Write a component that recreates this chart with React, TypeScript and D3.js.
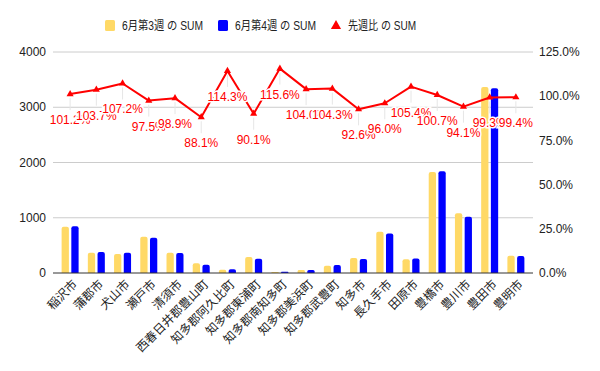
import { useEffect, useRef } from "react"
import * as d3 from "d3"

const categories = [
  "稲沢市", "蒲郡市", "犬山市", "瀬戸市", "清須市", "西春日井郡豊山町",
  "知多郡阿久比町", "知多郡東浦町", "知多郡南知多町", "知多郡美浜町", "知多郡武豊町",
  "知多市", "長久手市", "田原市", "豊橋市", "豊川市", "豊田市", "豊明市",
]
const week3 = [835, 365, 342, 655, 365, 178, 58, 288, 19, 54, 130, 272, 745, 248, 1830, 1082, 3368, 310]
const week4 = [845, 378, 366, 640, 361, 150, 70, 259, 22, 56, 143, 253, 717, 262, 1843, 1018, 3345, 308]
const ratio = [101.2, 103.7, 107.2, 97.5, 98.9, 88.1, 114.3, 90.1, 115.6, 104.0, 104.3, 92.6, 96.0, 105.4, 100.7, 94.1, 99.3, 99.4]
const leftTicks = [0, 1000, 2000, 3000, 4000]
const rightTicks = [0, 25, 50, 75, 100, 125]

const seriesNames = ["6月第3週 の SUM", "6月第4週 の SUM", "先週比 の SUM"]
const colors = ["#ffd966", "#0000ff", "#ff0000"]

const W = 600
const H = 371
const FONT = "'Liberation Sans', Arial, 'Noto Sans CJK JP', sans-serif"

export default function App() {
  const svgRef = useRef<SVGSVGElement>(null)

  useEffect(() => {
    const svg = d3.select(svgRef.current)
    svg.selectAll("*").remove()

    const top = 52
    const bottom = 273
    const x = d3.scaleBand().domain(categories).range([57, 529])
    const x1 = d3.scaleBand().domain(["w3", "w4"]).range([-8.5, 8.5]).paddingInner(0.25)
    const yL = d3.scaleLinear().domain([0, 4000]).range([bottom, top])
    const yR = d3.scaleLinear().domain([0, 125]).range([bottom, top])
    const cx = (c: string) => (x(c) as number) + x.bandwidth() / 2

    // grid
    svg.append("g")
      .selectAll("line")
      .data(leftTicks.slice(1))
      .enter()
      .append("line")
      .attr("x1", 53)
      .attr("x2", 533)
      .attr("y1", (d) => yL(d))
      .attr("y2", (d) => yL(d))
      .attr("stroke", "#cccccc")
      .attr("stroke-width", 1)

    // left axis labels
    svg.append("g")
      .selectAll("text")
      .data(leftTicks)
      .enter()
      .append("text")
      .attr("x", 46)
      .attr("y", (d) => yL(d))
      .attr("dy", "0.35em")
      .attr("text-anchor", "end")
      .attr("font-family", FONT)
      .attr("font-size", "12px")
      .attr("fill", "#222")
      .text((d) => String(d))

    // right axis labels
    svg.append("g")
      .selectAll("text")
      .data(rightTicks)
      .enter()
      .append("text")
      .attr("x", 539)
      .attr("y", (d) => yR(d))
      .attr("dy", "0.35em")
      .attr("text-anchor", "start")
      .attr("font-family", FONT)
      .attr("font-size", "12px")
      .attr("fill", "#222")
      .text((d) => `${d.toFixed(1)}%`)

    // bars with rounded tops
    const barPath = (x0: number, w: number, yTop: number) => {
      const r = Math.min(2, (bottom - yTop) / 2, w / 2)
      return `M${x0},${bottom}V${yTop + r}Q${x0},${yTop} ${x0 + r},${yTop}H${x0 + w - r}Q${x0 + w},${yTop} ${x0 + w},${yTop + r}V${bottom}Z`
    }
    const groups = [
      { key: "w3", values: week3, color: colors[0] },
      { key: "w4", values: week4, color: colors[1] },
    ]
    groups.forEach((g) => {
      svg.append("g")
        .selectAll("path")
        .data(categories)
        .enter()
        .append("path")
        .attr("d", (c, i) => barPath(cx(c) + (x1(g.key) as number), x1.bandwidth(), yL(g.values[i])))
        .attr("fill", g.color)
    })

    // baseline
    svg.append("line")
      .attr("x1", 53)
      .attr("x2", 533)
      .attr("y1", bottom)
      .attr("y2", bottom)
      .attr("stroke", "#333")
      .attr("stroke-width", 1)

    // leader lines for labels
    svg.append("g")
      .selectAll("line")
      .data(categories)
      .enter()
      .append("line")
      .attr("x1", (c) => cx(c))
      .attr("x2", (c) => cx(c))
      .attr("y1", (c, i) => yR(ratio[i]) + 4)
      .attr("y2", (c, i) => yR(ratio[i]) + 16)
      .attr("stroke", "#e6e6e6")
      .attr("stroke-width", 1)

    // line
    const line = d3
      .line<number>()
      .x((d, i) => cx(categories[i]))
      .y((d) => yR(d))
    svg.append("path")
      .datum(ratio)
      .attr("d", line)
      .attr("fill", "none")
      .attr("stroke", colors[2])
      .attr("stroke-width", 2)
      .attr("stroke-linejoin", "round")

    const tri = d3.symbol().type(d3.symbolTriangle).size(22)
    svg.append("g")
      .selectAll("path")
      .data(ratio)
      .enter()
      .append("path")
      .attr("d", tri)
      .attr("transform", (d, i) => `translate(${cx(categories[i])},${yR(d)})`)
      .attr("fill", colors[2])

    // value labels
    svg.append("g")
      .selectAll("text")
      .data(ratio)
      .enter()
      .append("text")
      .attr("x", (d, i) => cx(categories[i]))
      .attr("y", (d) => yR(d) + 30)
      .attr("text-anchor", "middle")
      .attr("font-family", FONT)
      .attr("font-size", "12px")
      .attr("fill", colors[2])
      .attr("stroke", "#fff")
      .attr("stroke-width", 3)
      .attr("paint-order", "stroke")
      .text((d) => `${d.toFixed(1)}%`)

    // x labels
    svg.append("g")
      .selectAll("text")
      .data(categories)
      .enter()
      .append("text")
      .attr("transform", (c) => `translate(${cx(c) + 5},${bottom + 9}) rotate(-45)`)
      .attr("text-anchor", "end")
      .attr("dy", "0.35em")
      .attr("font-family", "'Noto Sans CJK JP', sans-serif")
      .attr("font-size", "12px")
      .attr("fill", "#222")
      .text((c) => c)

    // legend
    const lg = svg.append("g").attr("font-size", "12px").attr("fill", "#222")
    const legendX = [105, 218, 331]
    const legendW = [81, 81, 68]
    seriesNames.forEach((name, i) => {
      if (i < 2) {
        lg.append("rect")
          .attr("x", legendX[i])
          .attr("y", 20)
          .attr("width", 10)
          .attr("height", 11)
          .attr("rx", 1.5)
          .attr("fill", colors[i])
      } else {
        lg.append("path")
          .attr("d", d3.symbol().type(d3.symbolTriangle).size(45))
          .attr("transform", `translate(${legendX[i] + 5},${26})`)
          .attr("fill", colors[i])
      }
      lg.append("text")
        .attr("x", legendX[i] + 17)
        .attr("y", 26)
        .attr("dy", "0.35em")
        .attr("textLength", legendW[i])
        .attr("lengthAdjust", "spacingAndGlyphs")
        .attr("font-family", "'Liberation Sans', 'Noto Sans CJK JP', sans-serif")
        .text(name)
    })
  }, [])

  return (
    <svg
      ref={svgRef}
      width={W}
      height={H}
      style={{ position: "absolute", left: 0, top: 0, background: "#fff" }}
    />
  )
}
